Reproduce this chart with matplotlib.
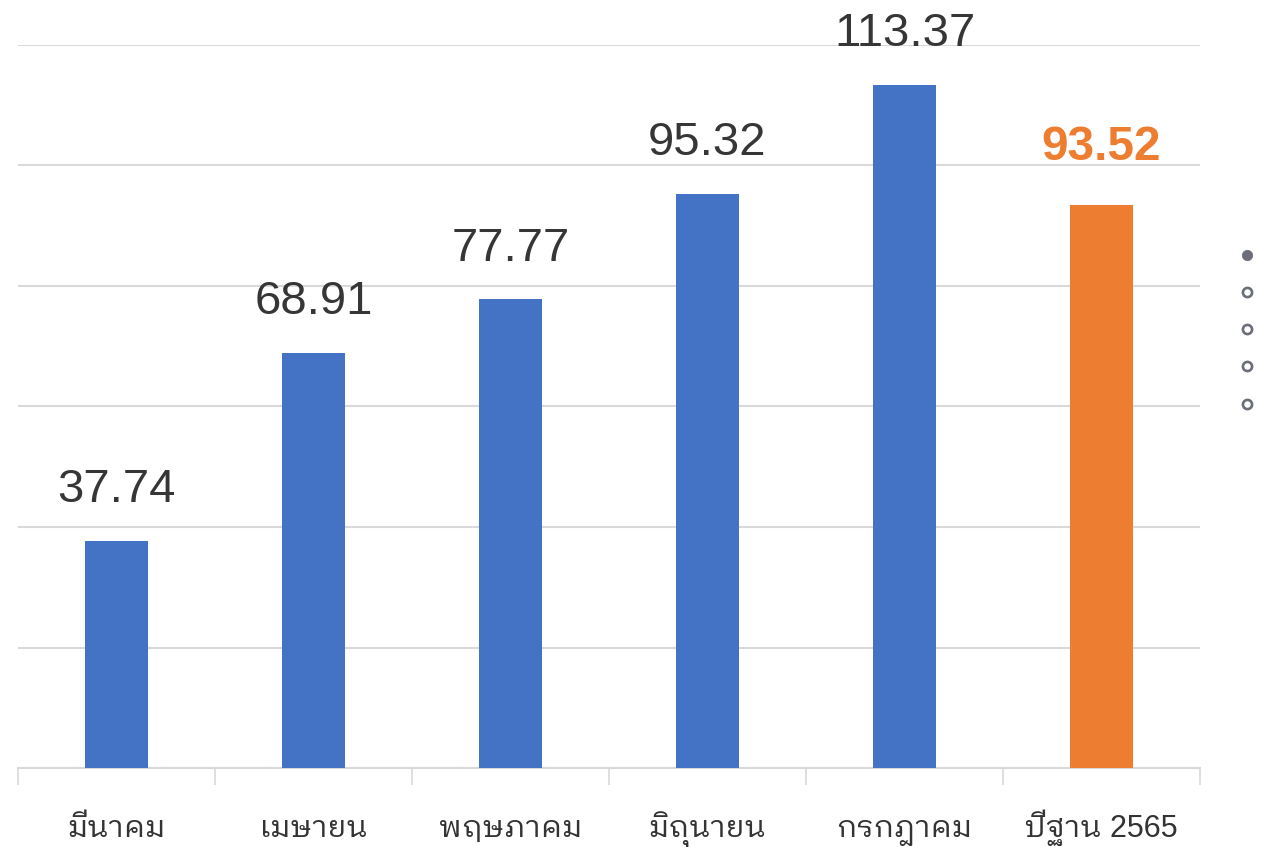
import matplotlib
matplotlib.use("Agg")
import matplotlib.pyplot as plt

months = ["มีนาคม", "เมษายน", "พฤษภาคม", "มิถุนายน", "กรกฎาคม", "ปีฐาน 2565"]
values = [37.74, 68.91, 77.77, 95.32, 113.37, 93.52]
highlight = [False, False, False, False, False, True]

BLUE = "#4472C4"
ORANGE = "#ED7D31"
GRID = "#d9d9d9"
FONTS = ["Liberation Sans", "IBM Plex Sans Thai Looped", "DejaVu Sans"]

fig = plt.figure(figsize=(12.76, 8.47), dpi=100)
ax = fig.add_axes([18 / 1276, 1 - 768 / 847, (1200 - 18) / 1276, (768 - 45) / 847])

x = list(range(len(months)))
colors = [ORANGE if h else BLUE for h in highlight]
ax.bar(x, values, width=0.315, color=colors, zorder=3)

for xi, v, h in zip(x, values, highlight):
    ax.annotate(
        f"{v:.2f}",
        (xi, v),
        textcoords="offset points",
        xytext=(0, 32 if h else 28),
        ha="center",
        va="baseline",
        fontsize=34.5 if h else 34,
        color=ORANGE if h else "#363636",
        fontweight="bold" if h else "normal",
        family=FONTS,
        annotation_clip=False,
    )

ax.set_xlim(-0.5, len(months) - 0.5)
ax.set_ylim(0, 120)
ax.set_yticks(range(0, 121, 20))
ax.yaxis.grid(True, color=GRID, linewidth=1.5, zorder=0)
ax.tick_params(axis="y", length=0, labelleft=False)

ax.set_xticks(x)
ax.set_xticklabels(months, family=FONTS, fontsize=22, color="#333333")
for lab in ax.get_xticklabels():
    lab.set_verticalalignment("baseline")
ax.set_xticks([i - 0.5 for i in range(len(months) + 1)], minor=True)
ax.tick_params(axis="x", which="major", length=0, pad=50)
ax.tick_params(axis="x", which="minor", length=12, width=1.2, color=GRID)

for s in ["top", "right", "left"]:
    ax.spines[s].set_visible(False)
ax.spines["bottom"].set_color(GRID)
ax.spines["bottom"].set_linewidth(1.5)

# page indicator dots on the right
dot_y = [255, 292, 329, 366, 404]
for i, yy in enumerate(dot_y):
    fig.lines.append(plt.Line2D(
        [1247 / 1276], [1 - yy / 847], transform=fig.transFigure,
        marker="o", markersize=7.5 if i == 0 else 6.6,
        markerfacecolor="#6b6e78" if i == 0 else "white",
        markeredgecolor="#6b6e78", markeredgewidth=1.9 if i else 0.5,
        linestyle="none",
    ))

fig.savefig("out.png")
